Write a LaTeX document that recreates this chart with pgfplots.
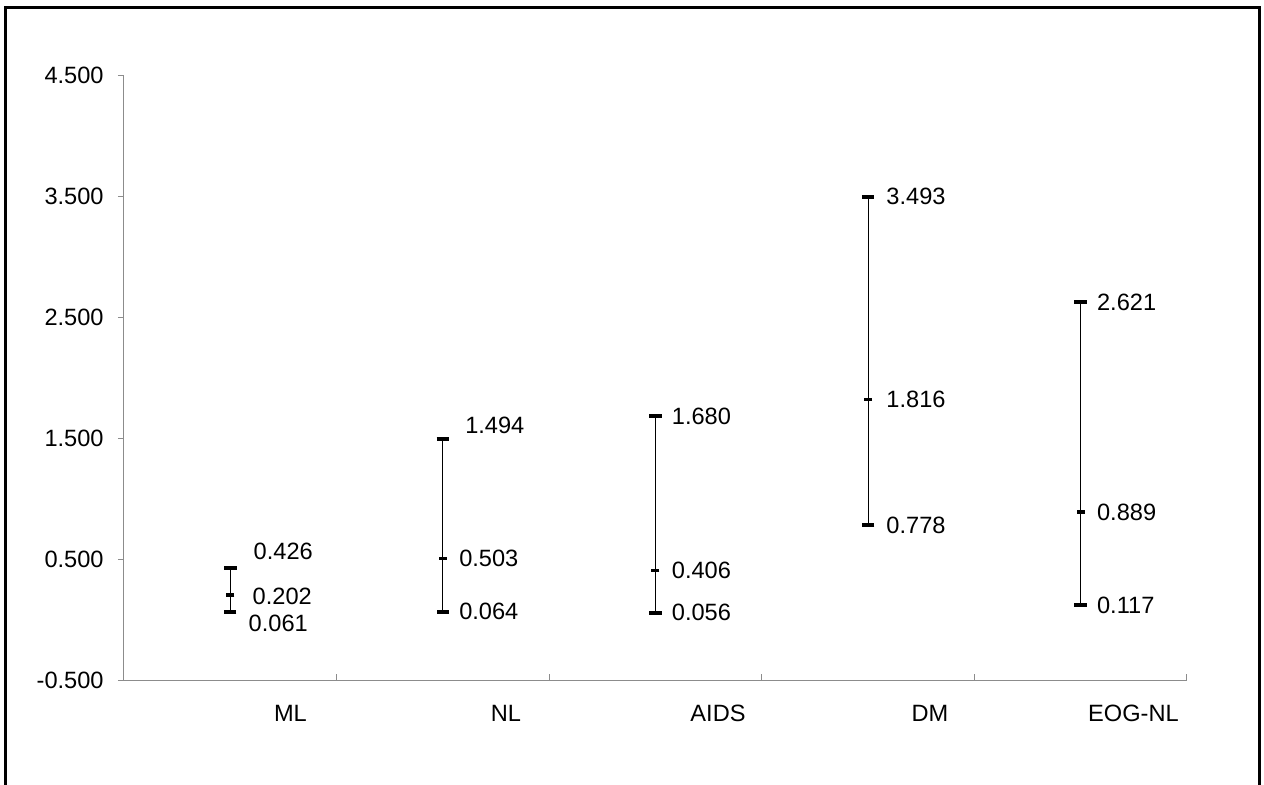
\documentclass[border=0pt]{standalone}
\usepackage{pgfplots}
\pgfplotsset{compat=1.18}
\usepackage{fontspec}
\setmainfont{Liberation Sans}
\begin{document}
\fontsize{11.8}{14}\selectfont
\begin{tikzpicture}
\path[use as bounding box] (-62pt,-52pt) rectangle (570pt,340pt);
\begin{axis}[
  at={(0,0)}, anchor=south west,
  scale only axis,
  width=531.5pt, height=302.5pt,
  xmin=0, xmax=5, ymin=-0.5, ymax=4.5,
  axis x line=bottom, axis y line=left,
  axis line style={-, draw=black!45, line width=0.5pt},
  tick style={draw=black!45, line width=0.5pt},
  tick align=outside,
  major tick length=3pt,
  xtick={1,2,3,4,5}, xticklabels={},
  xtick style={yshift=3pt},
  ytick={-0.5,0.5,1.5,2.5,3.5,4.5},
  yticklabel style={anchor=east, inner sep=0pt, xshift=-7pt},
  /pgf/number format/.cd, fixed, fixed zerofill, precision=3, assume math mode=true,
  /pgfplots/.cd,
  clip=false,
]
\addplot[only marks, mark=-, mark size=2pt, mark options={line width=1.7pt, black},
  error bars/.cd, y dir=both, y explicit,
  error mark=|,
  error mark options={line width=2pt, mark size=3.1pt, black},
  error bar style={line width=0.55pt, black}]
coordinates {
  (0.5,0.202) += (0,0.224) -= (0,0.141)
  (1.5,0.503) += (0,0.991) -= (0,0.439)
  (2.5,0.406) += (0,1.274) -= (0,0.350)
  (3.5,1.816) += (0,1.677) -= (0,1.038)
  (4.5,0.889) += (0,1.732) -= (0,0.772)
};
% value labels
\tikzset{vl/.style={anchor=west, inner sep=0pt}}
\node[vl, xshift=11.5pt] at (axis cs:0.5,0.560) {0.426};
\node[vl, xshift=11pt]   at (axis cs:0.5,0.195) {0.202};
\node[vl, xshift=9pt]    at (axis cs:0.5,-0.028) {0.061};
\node[vl, xshift=11pt]   at (axis cs:1.5,1.603) {1.494};
\node[vl, xshift=8pt]    at (axis cs:1.5,0.503) {0.503};
\node[vl, xshift=8pt]    at (axis cs:1.5,0.064) {0.064};
\node[vl, xshift=8pt]    at (axis cs:2.5,1.680) {1.680};
\node[vl, xshift=8pt]    at (axis cs:2.5,0.406) {0.406};
\node[vl, xshift=8pt]    at (axis cs:2.5,0.056) {0.056};
\node[vl, xshift=9pt]    at (axis cs:3.5,3.493) {3.493};
\node[vl, xshift=9pt]    at (axis cs:3.5,1.816) {1.816};
\node[vl, xshift=9pt]    at (axis cs:3.5,0.778) {0.778};
\node[vl, xshift=8pt]    at (axis cs:4.5,2.621) {2.621};
\node[vl, xshift=8pt]    at (axis cs:4.5,0.889) {0.889};
\node[vl, xshift=8pt]    at (axis cs:4.5,0.117) {0.117};
% category labels
\tikzset{cl/.style={anchor=north, inner sep=0pt, yshift=-12.5pt}}
\node[cl] at (axis cs:0.783,-0.5) {ML};
\node[cl] at (axis cs:1.797,-0.5) {NL};
\node[cl] at (axis cs:2.794,-0.5) {AIDS};
\node[cl] at (axis cs:3.791,-0.5) {DM};
\node[cl] at (axis cs:4.748,-0.5) {EOG-NL};
\end{axis}
\draw[line width=1.5pt, black] (-59pt,-70pt) rectangle (567.75pt,336.5pt);
\end{tikzpicture}
\end{document}
